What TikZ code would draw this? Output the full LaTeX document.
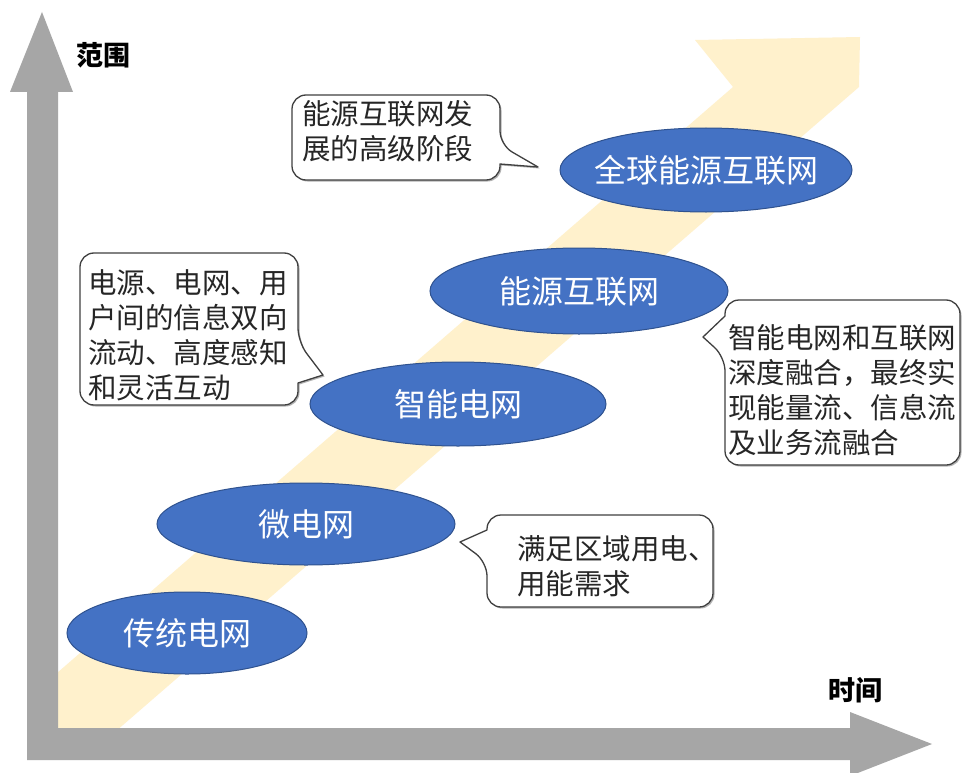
\documentclass[tikz,border=0pt]{standalone}
\usepackage{fontspec}
\newfontfamily\cjk{Noto Sans CJK SC}
\usetikzlibrary{shapes.geometric}
\definecolor{bandyellow}{HTML}{FFF1CC}
\definecolor{axisgray}{HTML}{A6A6A6}
\definecolor{ellfill}{HTML}{4472C4}
\definecolor{elldraw}{HTML}{2F528F}
\definecolor{calltext}{HTML}{262626}
\definecolor{callline}{HTML}{404040}
\tikzset{
  stage/.style={ellipse, fill=ellfill, draw=elldraw, line width=1pt, inner sep=0pt},
  stagetext/.style={inner sep=0pt, text=white, font=\cjk\fontsize{32}{36}\selectfont},
  callout/.style={fill=white, draw=callline, line width=1.3pt, line join=round},
  calloutshadow/.style={fill=black!30, draw=none},
  callouttext/.style={anchor=west, inner sep=0pt, align=left, text=calltext,
    font=\cjk\fontsize{28.5}{35}\selectfont},
  axislabel/.style={inner sep=0pt, text=black, font=\cjk\bfseries\fontsize{27}{30}\selectfont}
}
\begin{document}
\begin{tikzpicture}[x=1pt,y=-1pt]
\useasboundingbox[fill=white] (0,0) rectangle (963,773);
% diagonal band
\fill[bandyellow] (733,87) -- (695,40) -- (860,37) -- (859,87) -- (123,725) -- (101,744) -- (42,744) -- (42,686) -- cycle;
% axes
\fill[axisgray] (27,760) -- (27,92) -- (10,92) -- (42,12) -- (73,92) -- (58,92) -- (58,728)
  -- (850,728) -- (850,712) -- (932,744) -- (850,776) -- (850,760) -- cycle;
\node[axislabel] (yl) at (103,55) {范围};
\node[axislabel] (xl) at (855,690) {时间};
% callout shapes
\path[calloutshadow, shift={(1.5,1.5)}] (396,95) [rounded corners=14pt] -- (500,95) -- (500,145) [sharp corners] -- (538,167) -- (500,164) [rounded corners=14pt] -- (500,180) -- (292,180) -- (292,95) -- cycle;
\draw[callout] (396,95) [rounded corners=14pt] -- (500,95) -- (500,145) [sharp corners] -- (538,167) -- (500,164) [rounded corners=14pt] -- (500,180) -- (292,180) -- (292,95) -- cycle;

\path[calloutshadow, shift={(1.5,1.5)}] (189,253) [rounded corners=14pt] -- (298,253) -- (298,342) [sharp corners] -- (323,375) -- (298,383) [rounded corners=14pt] -- (298,405) -- (80,405) -- (80,253) -- cycle;
\draw[callout] (189,253) [rounded corners=14pt] -- (298,253) -- (298,342) [sharp corners] -- (323,375) -- (298,383) [rounded corners=14pt] -- (298,405) -- (80,405) -- (80,253) -- cycle;

\path[calloutshadow, shift={(1.5,1.5)}] (842,300) [rounded corners=14pt] -- (960,300) -- (960,465) -- (725,465) -- (725,357) [sharp corners] -- (703,337) -- (725,316) [rounded corners=14pt] -- (725,300) -- cycle;
\draw[callout] (842,300) [rounded corners=14pt] -- (960,300) -- (960,465) -- (725,465) -- (725,357) [sharp corners] -- (703,337) -- (725,316) [rounded corners=14pt] -- (725,300) -- cycle;

\path[calloutshadow, shift={(1.5,1.5)}] (600,515) [rounded corners=14pt] -- (713,515) -- (713,607) -- (487,607) -- (487,562) [sharp corners] -- (460,542) -- (487,530) [rounded corners=14pt] -- (487,515) -- cycle;
\draw[callout] (600,515) [rounded corners=14pt] -- (713,515) -- (713,607) -- (487,607) -- (487,562) [sharp corners] -- (460,542) -- (487,530) [rounded corners=14pt] -- (487,515) -- cycle;
% stages
\node[stage, minimum width=292pt, minimum height=84pt,
  label={[stagetext]center:全球能源互联网}] (global) at (706,170) {};
\node[stage, minimum width=298pt, minimum height=86pt,
  label={[stagetext]center:能源互联网}] (energy) at (579,291) {};
\node[stage, minimum width=296pt, minimum height=84pt,
  label={[stagetext]center:智能电网}] (smart) at (458,404) {};
\node[stage, minimum width=298pt, minimum height=82pt,
  label={[stagetext]center:微电网}] (micro) at (306,524) {};
\node[stage, minimum width=240pt, minimum height=82pt,
  label={[stagetext]center:传统电网}] (trad) at (187,633) {};
% callout texts
\node[callouttext] (t1) at (302,131) {能源互联网发\\展的高级阶段};
\node[callouttext] (t2) at (88,335) {电源、电网、用\\户间的信息双向\\流动、高度感知\\和灵活互动};
\node[callouttext] (t3) at (728,390) {智能电网和互联网\\深度融合，最终实\\现能量流、信息流\\及业务流融合};
\node[callouttext] (t4) at (517,566) {满足区域用电、\\用能需求};
\end{tikzpicture}
\end{document}
